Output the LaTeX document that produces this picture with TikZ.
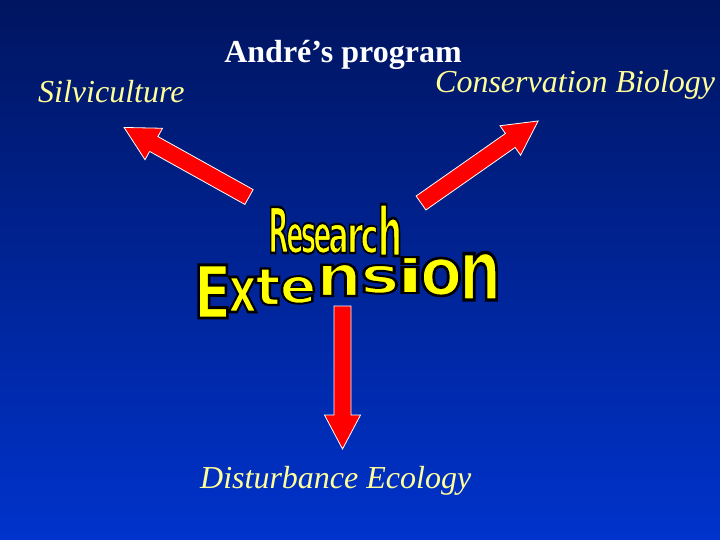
\documentclass[tikz,border=0pt]{standalone}
\usepackage{fontspec}
\setmainfont{Liberation Serif}
\newfontfamily\wafont{DejaVu Sans Condensed}

\definecolor{slidetop}{RGB}{0,21,96}
\definecolor{slidebottom}{RGB}{0,51,204}
\definecolor{labelyellow}{RGB}{255,255,153}
\definecolor{artyellow}{RGB}{255,255,0}

% yellow letter with a thin black rim
\newcommand\rimmed[1]{\special{pdf:literal direct 0 0 0 RG 2 Tr 1.6 w}#1\special{pdf:literal direct 0 Tr}}

\tikzset{
  title/.style={text=white,font=\bfseries\fontsize{32}{38}\selectfont,inner sep=0pt},
  field/.style={text=labelyellow,font=\itshape\fontsize{32}{38}\selectfont,inner sep=0pt},
  art/.style={text=artyellow,font=\wafont\bfseries\fontsize{40}{48}\selectfont,inner sep=0pt,anchor=base},
  arrowbody/.style={fill=red,draw=white,line width=0.8pt,line join=miter},
  blockarrow/.pic={\draw[arrowbody] (0,-8.5) -- (109,-8.5) -- (109,-18) -- (143,0) -- (109,18) -- (109,8.5) -- (0,8.5) -- cycle;}
}

\begin{document}
\begin{tikzpicture}[x=1pt,y=-1pt]
  \useasboundingbox (0,0) rectangle (720,540);
  \shade[top color=slidetop,bottom color=slidebottom] (0,0) rectangle (720,540);

  % labels
  \node[title,anchor=base] (prog) at (343,63) {André’s program};
  \node[field,anchor=base west] (silvi) at (38,103) {Silviculture};
  \node[field,anchor=base west] (cons) at (435,93) {Conservation Biology};
  \node[field,anchor=base west] (dist) at (200,488) {Disturbance Ecology};

  % block arrows
  \pic (toSilvi) [rotate=150.9] at (249,197) {blockarrow};
  \pic (toCons) [rotate=35] at (421,203) {blockarrow};
  \pic (toDist) [rotate=-90] at (342.5,306) {blockarrow};

  % word art
  \foreach \ltr/\cx/\cy/\sx/\sy [count=\k] in {
      R/278.5/253/0.74/1.58, e/295/253/0.70/1.34, s/308.5/253/0.74/1.34,
      e/322.5/253/0.74/1.34, a/338.5/253/0.84/1.30, r/355/253/0.94/1.30,
      c/369.5/253/0.84/1.22, h/390/256/0.95/1.70,
      E/212.5/318/1.55/1.82, x/242.5/312/1.25/1.60, t/268/305/1.45/1.30,
      e/298/303/1.50/1.20, n/339/296/1.78/1.43, s/380/293/1.85/1.25,
      i/410/293/2.45/1.18, o/441/295/1.72/1.65, n/480/300/1.66/2.12} {
    \node[art,xscale=\sx,yscale=\sy] (art\k) at (\cx,\cy) {\rimmed{\ltr}};
  }
\end{tikzpicture}
\end{document}
